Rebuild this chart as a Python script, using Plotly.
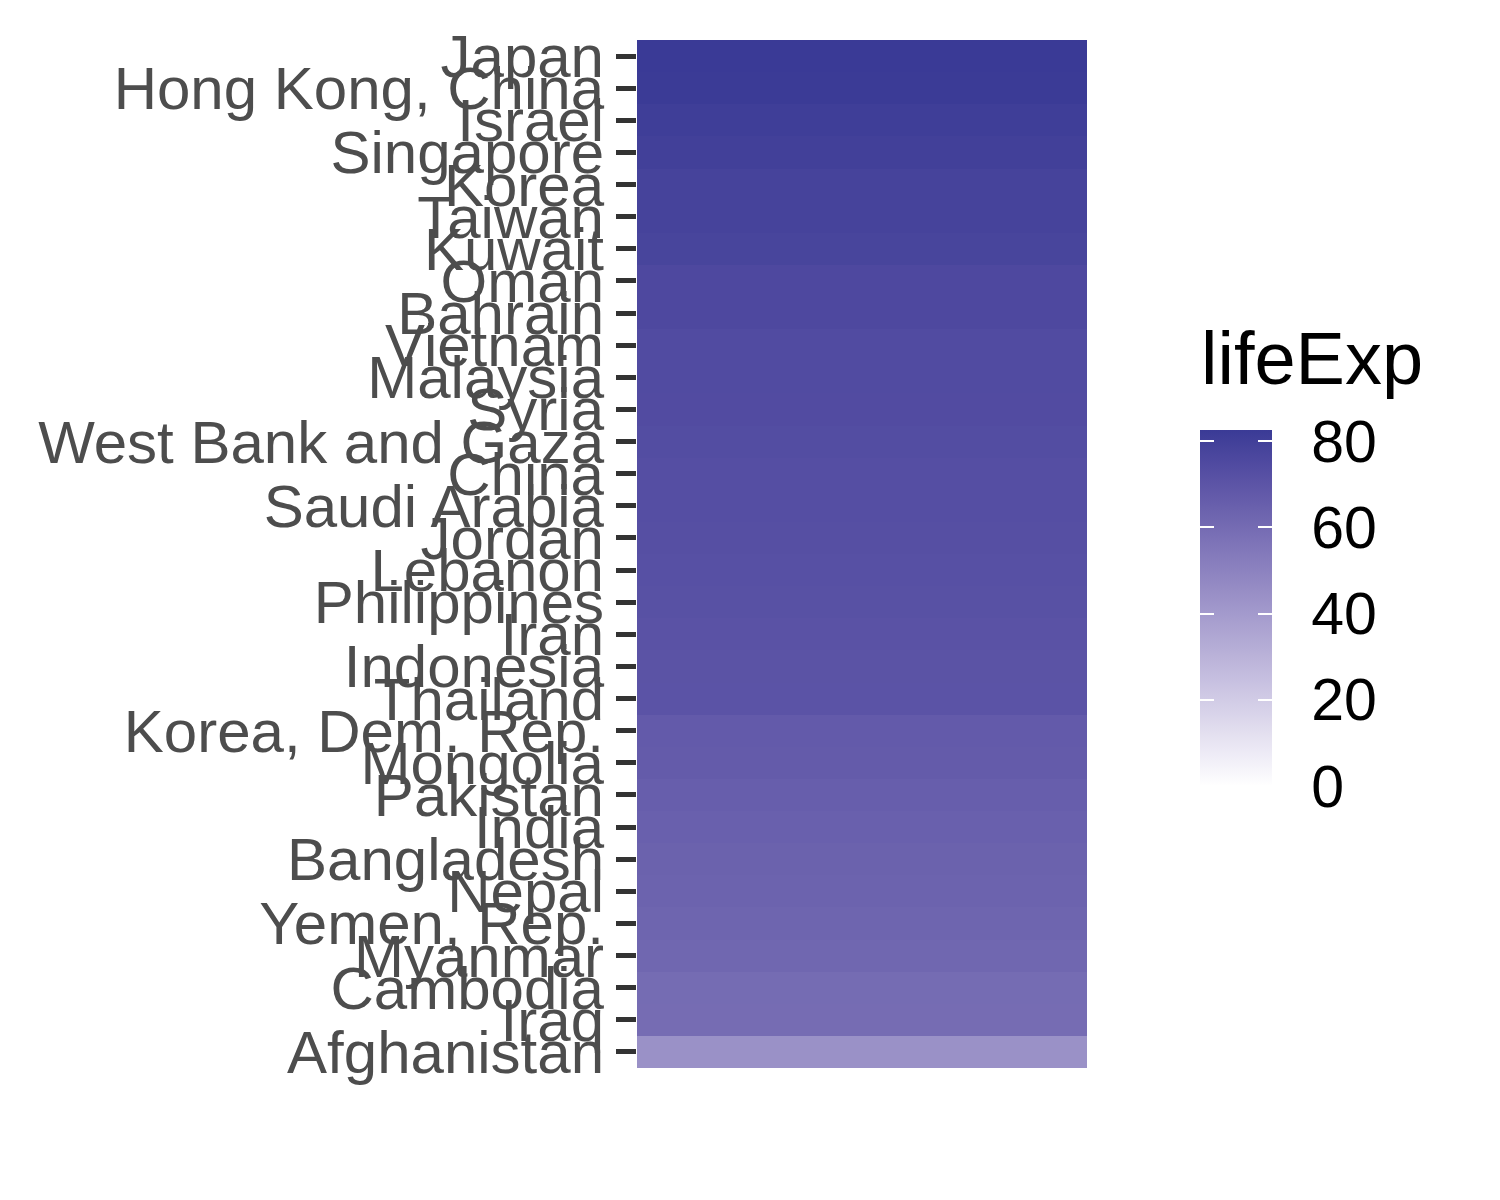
import plotly.graph_objects as go

countries = ["Japan", "Hong Kong, China", "Israel", "Singapore", "Korea", "Taiwan",
             "Kuwait", "Oman", "Bahrain", "Vietnam", "Malaysia", "Syria",
             "West Bank and Gaza", "China", "Saudi Arabia", "Jordan", "Lebanon",
             "Philippines", "Iran", "Indonesia", "Thailand", "Korea, Dem. Rep.",
             "Mongolia", "Pakistan", "India", "Bangladesh", "Nepal", "Yemen, Rep.",
             "Myanmar", "Cambodia", "Iraq", "Afghanistan"]
life_exp = [82.603, 82.208, 80.745, 79.972, 78.623, 78.400, 77.588, 75.640, 75.635,
            74.249, 74.241, 74.143, 73.422, 72.961, 72.777, 72.535, 71.993, 71.688,
            70.964, 70.650, 70.616, 67.297, 66.803, 65.483, 64.698, 64.062, 63.785,
            62.698, 62.069, 59.723, 59.545, 43.828]
cbar_ticks = [0, 20, 40, 60, 80]
legend_title = "lifeExp"
x_cat = ["Asia"]

LOW = (255, 255, 255)
HIGH = (58, 58, 150)


def srgb_to_lin(c):
    c = c / 255.0
    return c / 12.92 if c <= 0.04045 else ((c + 0.055) / 1.055) ** 2.4


def lin_to_srgb(c):
    c = max(0.0, min(1.0, c))
    v = 12.92 * c if c <= 0.0031308 else 1.055 * c ** (1 / 2.4) - 0.055
    return int(round(max(0, min(1, v)) * 255))


WX, WY, WZ = 0.95047, 1.0, 1.08883


def f(t):
    return t ** (1 / 3) if t > 0.008856 else 7.787 * t + 16 / 116


def finv(t):
    return t ** 3 if t ** 3 > 0.008856 else (t - 16 / 116) / 7.787


def to_lab(rgb):
    r, g, b = [srgb_to_lin(v) for v in rgb]
    X = 0.4124 * r + 0.3576 * g + 0.1805 * b
    Y = 0.2126 * r + 0.7152 * g + 0.0722 * b
    Z = 0.0193 * r + 0.1192 * g + 0.9505 * b
    fx, fy, fz = f(X / WX), f(Y / WY), f(Z / WZ)
    return (116 * fy - 16, 500 * (fx - fy), 200 * (fy - fz))


def from_lab(lab):
    L, a, b = lab
    fy = (L + 16) / 116
    fx = fy + a / 500
    fz = fy - b / 200
    X, Y, Z = WX * finv(fx), WY * finv(fy), WZ * finv(fz)
    r = 3.2406 * X - 1.5372 * Y - 0.4986 * Z
    g = -0.9689 * X + 1.8758 * Y + 0.0415 * Z
    bb = 0.0557 * X - 0.2040 * Y + 1.0570 * Z
    return (lin_to_srgb(r), lin_to_srgb(g), lin_to_srgb(bb))


lab_lo, lab_hi = to_lab(LOW), to_lab(HIGH)
n_stops = 21
colorscale = []
for i in range(n_stops):
    t = i / (n_stops - 1)
    lab = tuple(lab_lo[k] + (lab_hi[k] - lab_lo[k]) * t for k in range(3))
    r, g, b = from_lab(lab)
    colorscale.append([t, f"rgb({r},{g},{b})"])

zmax = max(life_exp)
z = [[v] for v in life_exp]

# plot area in pixels: x 637..1087, y 40..1068
PL, PR, PT, PB = 637, 1087, 40, 1068
PW, PH = PR - PL, PB - PT


def px_x(x):
    return (x - PL) / PW


def px_y(y):
    return (PB - y) / PH


common = dict(
    x=x_cat, y=countries, z=z, zmin=0, zmax=zmax,
    colorscale=colorscale, hoverinfo="skip",
)
cb_common = dict(
    xref="paper", yref="paper", xanchor="left",
    y=px_y(430), yanchor="top", lenmode="pixels", len=356,
    xpad=0, ypad=0, outlinewidth=0,
    tickmode="array", tickvals=cbar_ticks,
)

FONT = "Liberation Sans, Arial, sans-serif"

fig = go.Figure()
# colorbar with labels (invisible outside ticks give label offset)
fig.add_trace(go.Heatmap(
    **common,
    colorbar=dict(
        **cb_common, x=px_x(1200), thickness=72,
        ticks="outside", ticklen=28, tickcolor="rgba(255,255,255,0)", tickwidth=1,
        ticktext=[str(t) for t in cbar_ticks],
        tickfont=dict(family=FONT, size=59, color="black"),
    ),
))
# overlay colorbar: white inside ticks on right edge
fig.add_trace(go.Heatmap(
    **common,
    colorbar=dict(
        **cb_common, x=px_x(1200), thickness=72,
        ticks="inside", ticklen=14, tickcolor="white", tickwidth=2,
        showticklabels=False,
    ),
))
# narrow overlay colorbar: white ticks on left edge
fig.add_trace(go.Heatmap(
    **common,
    colorbar=dict(
        **cb_common, x=px_x(1200), thickness=14,
        ticks="inside", ticklen=14, tickcolor="white", tickwidth=2,
        showticklabels=False,
    ),
))

fig.add_annotation(
    text=legend_title, xref="paper", yref="paper",
    x=px_x(1200), y=px_y(358), xanchor="left", yanchor="middle",
    showarrow=False, font=dict(family=FONT, size=74, color="black"),
    borderpad=0,
)

fig.update_layout(
    width=1500, height=1200,
    margin=dict(l=PL, r=1500 - PR, t=PT, b=1200 - PB),
    paper_bgcolor="white", plot_bgcolor="white",
    showlegend=False,
)
fig.update_xaxes(showticklabels=False, ticks="", showgrid=False, zeroline=False,
                 showline=False)
fig.update_yaxes(autorange="reversed", showgrid=False, zeroline=False, showline=False,
                 tickmode="array", tickvals=countries, ticktext=countries,
                 ticks="outside", ticklen=20, tickwidth=5, tickcolor="#333333",
                 ticklabelstandoff=0,
                 tickfont=dict(family=FONT, size=60, color="#4d4d4d"))

fig.write_html("out.html")
